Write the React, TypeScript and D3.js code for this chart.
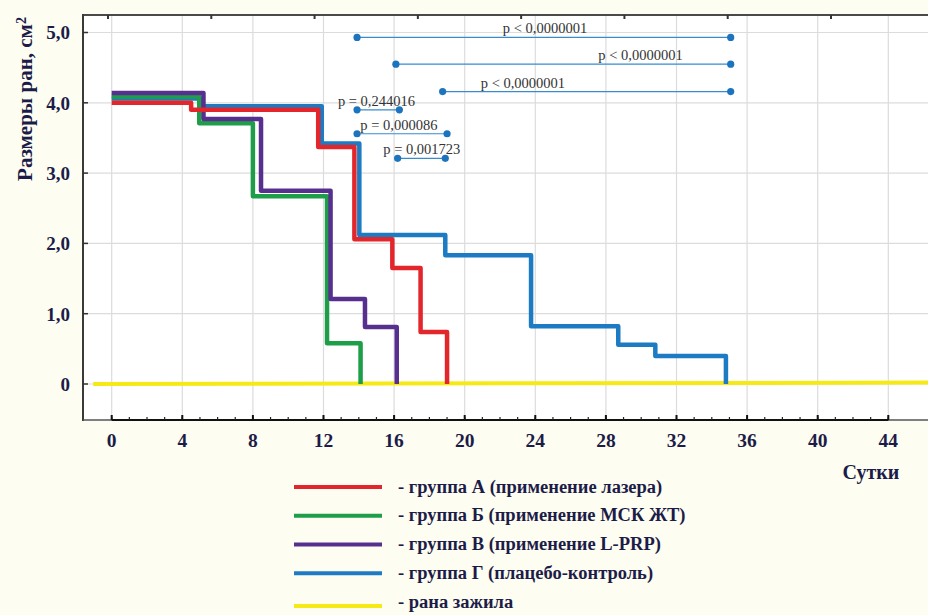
import React from 'react';
import * as d3 from 'd3';

// ---- data (days, wound size cm²) ----
const groupA: [number, number][] = [[0, 4.0], [4.5, 3.9], [11.7, 3.37], [13.75, 2.06], [15.9, 1.65], [17.5, 0.74], [19.0, 0]];
const groupB: [number, number][] = [[0, 4.09], [4.96, 3.71], [8.0, 2.67], [12.2, 0.58], [14.1, 0]];
const groupV: [number, number][] = [[0, 4.14], [5.2, 3.77], [8.46, 2.75], [12.4, 1.21], [14.35, 0.81], [16.15, 0]];
const groupG: [number, number][] = [[0, 4.06], [5.0, 3.95], [11.9, 3.42], [14.03, 2.12], [18.9, 1.83], [23.76, 0.82], [28.7, 0.56], [30.8, 0.4], [34.8, 0]];
const healed: [number, number][] = [[-1.05, 0], [47, 0.02]];

const xTicks = [0, 4, 8, 12, 16, 20, 24, 28, 32, 36, 40, 44];
const xMinorTicks = d3.range(0, 45, 1);
const yTicks = [0, 1, 2, 3, 4, 5];
const yTickLabels = ['0', '1,0', '2,0', '3,0', '4,0', '5,0'];
const topTicks = [0, 1, 2, 3, 4, 5, 6, 7];

const comparisons = [
  { from: 13.9, to: 35.07, level: 4.93, label: 'p < 0,0000001', labelDay: 24.55 },
  { from: 16.1, to: 35.07, level: 4.55, label: 'p < 0,0000001', labelDay: 29.96 },
  { from: 18.75, to: 35.07, level: 4.16, label: 'p < 0,0000001', labelDay: 23.3 },
  { from: 13.9, to: 16.3, level: 3.9, label: 'p = 0,244016', labelDay: 15.0 },
  { from: 13.9, to: 19.0, level: 3.56, label: 'p = 0,000086', labelDay: 16.27 },
  { from: 16.2, to: 18.9, level: 3.21, label: 'p = 0,001723', labelDay: 17.57 },
];

const legendLabels = [
  '- группа А (применение лазера)',
  '- группа Б (применение МСК ЖТ)',
  '- группа В (применение L-PRP)',
  '- группа Г (плацебо-контроль)',
  '- рана зажила',
];

const yTitle = 'Размеры ран, см';
const xTitle = 'Сутки';

// ---- styles ----
const COLORS = {
  A: '#e3262b',
  B: '#1f9e4a',
  V: '#57308f',
  G: '#1c7bc3',
  healed: '#f6ea16',
  bracket: '#3a8bcc',
  dot: '#1b74bd',
  text: '#1c1c48',
};
const SERIF = "'Liberation Serif', 'DejaVu Serif', serif";
const tStyle = { fontFamily: SERIF };

export default function App() {
  const W = 928;
  const H = 615;
  const frameL = 83;
  const frameT = 15;
  const frameB = 420;

  const x = d3.scaleLinear().domain([0, 44]).range([111.7, 888.3]);
  const y = d3.scaleLinear().domain([0, 5]).range([384, 32.5]);
  const xTop = d3.scaleLinear().domain([0, 7]).range([108, 831]);

  const stepLine = d3
    .line<[number, number]>()
    .x((d) => x(d[0]))
    .y((d) => y(d[1]))
    .curve(d3.curveStepAfter);
  const straight = d3
    .line<[number, number]>()
    .x((d) => x(d[0]))
    .y((d) => y(d[1]));

  const series = [
    { data: groupG, color: COLORS.G },
    { data: groupB, color: COLORS.B },
    { data: groupV, color: COLORS.V },
    { data: groupA, color: COLORS.A },
  ];

  const legendColors = [COLORS.A, COLORS.B, COLORS.V, COLORS.G, COLORS.healed];
  const legendY = d3.scaleLinear().domain([0, 4]).range([487, 602]);

  const gridDays = d3.range(0, 52, 4);

  return (
    <svg
      width={W}
      height={H}
      style={{ position: 'absolute', left: 0, top: 0, display: 'block', fontFamily: SERIF }}
    >
      <rect x={0} y={0} width={W} height={H} fill="#fefdf1" />
      <rect x={frameL} y={frameT} width={W - frameL} height={frameB - frameT} fill="#ffffff" />

      {/* grid */}
      {gridDays.map((d) => (
        <line key={'gx' + d} x1={x(d)} x2={x(d)} y1={frameT} y2={frameB} stroke="#dcdcdc" strokeWidth={1.2} />
      ))}
      {yTicks.map((v) => (
        <line key={'gy' + v} x1={frameL} x2={W} y1={y(v)} y2={y(v)} stroke="#dcdcdc" strokeWidth={1.2} />
      ))}

      {/* frame */}
      <line x1={frameL} x2={W} y1={frameT} y2={frameT} stroke="#4a4a4a" strokeWidth={2} />
      <line x1={frameL} x2={frameL} y1={frameT - 1} y2={frameB + 1} stroke="#3a3a3a" strokeWidth={2} />
      <line x1={frameL} x2={W} y1={frameB} y2={frameB} stroke="#555" strokeWidth={1.5} />

      {/* top ticks */}
      {topTicks.map((t) => (
        <line key={'tt' + t} x1={xTop(t)} x2={xTop(t)} y1={frameT} y2={frameT + 4} stroke="#333" strokeWidth={2} />
      ))}

      {/* y axis ticks and labels */}
      {yTicks.map((v, i) => (
        <g key={'yt' + v}>
          <line x1={frameL} x2={frameL + 5} y1={y(v)} y2={y(v)} stroke="#333" strokeWidth={1.5} />
          <text
            x={70}
            y={y(v)}
            dy="0.36em"
            textAnchor="end"
            fontSize={19}
            fontWeight="bold"
            fill={COLORS.text}
            style={tStyle}
          >
            {yTickLabels[i]}
          </text>
        </g>
      ))}

      {/* x axis */}
      <line x1={x(0)} x2={x(44)} y1={frameB} y2={frameB} stroke="#111" strokeWidth={2.2} />
      {xMinorTicks.map((d) => (
        <line key={'xm' + d} x1={x(d)} x2={x(d)} y1={frameB} y2={frameB - 3} stroke="#222" strokeWidth={1.2} />
      ))}
      {xTicks.map((d) => (
        <g key={'xt' + d}>
          <line x1={x(d)} x2={x(d)} y1={frameB} y2={frameB - 5} stroke="#111" strokeWidth={2} />
          <text x={x(d)} y={447} textAnchor="middle" fontSize={19.5} fontWeight="bold" fill={COLORS.text} style={tStyle}>
            {d}
          </text>
        </g>
      ))}
      <text x={871} y={479} textAnchor="middle" fontSize={20} fontWeight="bold" fill={COLORS.text} style={tStyle}>
        {xTitle}
      </text>

      {/* y title */}
      <text
        transform={`translate(32, 99) rotate(-90)`}
        textAnchor="middle"
        fontSize={21}
        fontWeight="bold"
        fill={COLORS.text}
        style={tStyle}
      >
        {yTitle}
        <tspan dy="-0.45em" fontSize={14}>2</tspan>
      </text>

      {/* healed line */}
      <path d={straight(healed) || ''} fill="none" stroke={COLORS.healed} strokeWidth={4} />

      {/* series */}
      {series.map((s, i) => (
        <path
          key={'s' + i}
          d={stepLine(s.data) || ''}
          fill="none"
          stroke={s.color}
          strokeWidth={4.5}
          strokeLinejoin="round"
        />
      ))}

      {/* comparisons */}
      {comparisons.map((c, i) => (
        <g key={'c' + i}>
          <line
            x1={x(c.from)}
            x2={x(c.to)}
            y1={y(c.level)}
            y2={y(c.level)}
            stroke={COLORS.bracket}
            strokeWidth={1.2}
          />
          <circle cx={x(c.from)} cy={y(c.level)} r={3.6} fill={COLORS.dot} />
          <circle cx={x(c.to)} cy={y(c.level)} r={3.6} fill={COLORS.dot} />
          <text
            x={x(c.labelDay)}
            y={y(c.level) - 4}
            textAnchor="middle"
            fontSize={14.5}
            fill="#333"
            style={tStyle}
          >
            {c.label}
          </text>
        </g>
      ))}

      {/* legend */}
      {legendLabels.map((lab, i) => (
        <g key={'lg' + i}>
          <line
            x1={294}
            x2={382}
            y1={legendY(i) + (i === 4 ? 4 : 0)}
            y2={legendY(i) + (i === 4 ? 4 : 0)}
            stroke={legendColors[i]}
            strokeWidth={4}
          />
          <text
            x={398}
            y={legendY(i)}
            dy="0.3em"
            fontSize={18.5}
            fontWeight="bold"
            fill={COLORS.text}
            style={tStyle}
          >
            {lab}
          </text>
        </g>
      ))}
    </svg>
  );
}
